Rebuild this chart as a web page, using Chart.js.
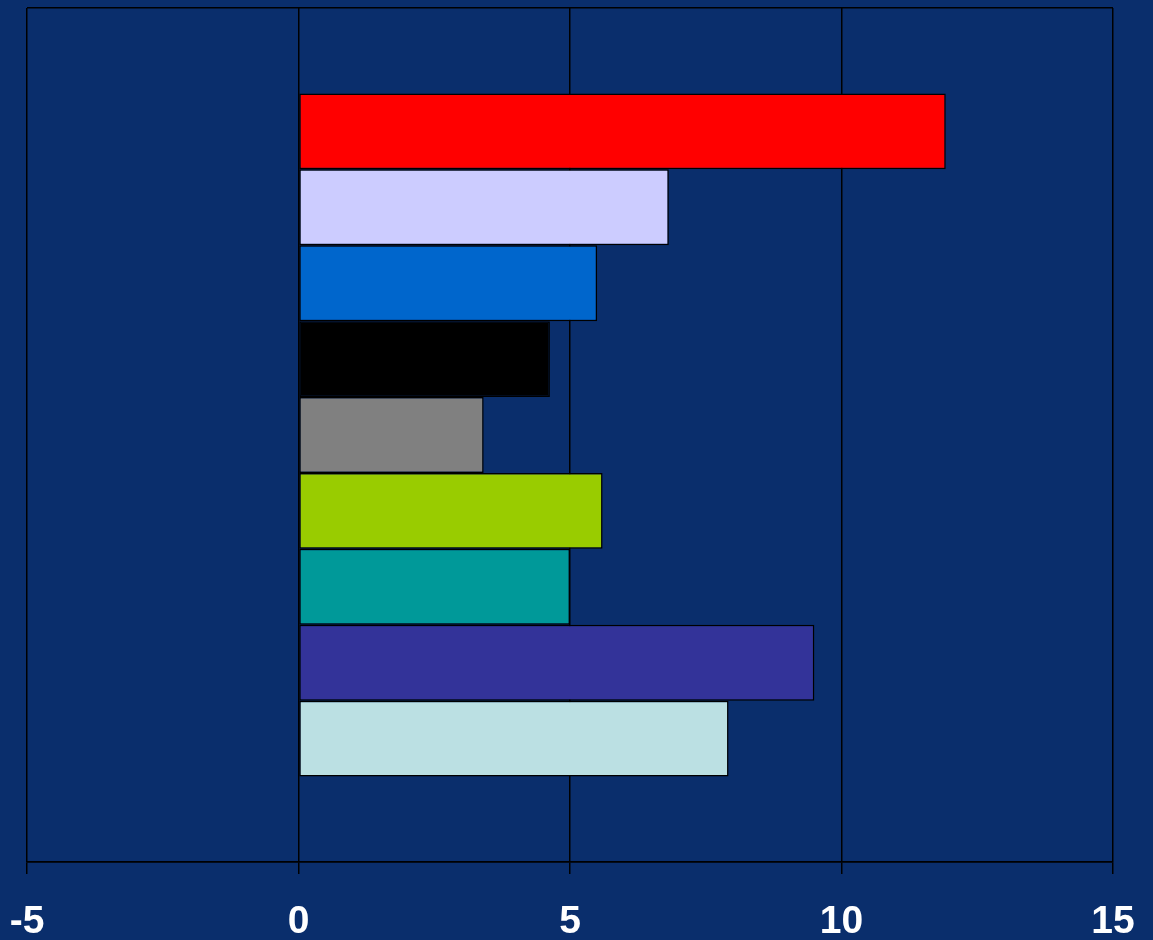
<!DOCTYPE html>
<html>
<head>
<meta charset="utf-8">
<script src="https://cdn.jsdelivr.net/npm/chart.js@4/dist/chart.umd.min.js"></script>
<style>
  html, body { margin: 0; padding: 0; background: #0a2e6c; overflow: hidden; }
  canvas { display: block; }
</style>
</head>
<body>
<canvas id="chart" width="1153" height="940"></canvas>
<script>
// === data ===
const categories = [""];
const seriesValues = [11.92, 6.82, 5.5, 4.63, 3.41, 5.6, 5.0, 9.5, 7.92];
const seriesColors = ["#ff0000", "#ccccff", "#0066cc", "#000000", "#808080", "#99cc00", "#009999", "#333399", "#bbe0e3"];
const xTicks = [-5, 0, 5, 10, 15];

const datasets = seriesValues.map((v, i) => ({
  label: "Series " + (i + 1),
  data: [v],
  backgroundColor: seriesColors[i],
  borderColor: "#000000",
  borderWidth: 1.5,
  borderSkipped: false,
  categoryPercentage: 0.8,
  barPercentage: 1.0,
}));

const ctx = document.getElementById("chart").getContext("2d");
new Chart(ctx, {
  type: "bar",
  data: { labels: categories, datasets },
  options: {
    indexAxis: "y",
    responsive: false,
    animation: false,
    devicePixelRatio: 1,
    layout: { padding: { left: 27, right: 40, top: 8, bottom: 0 } },
    plugins: {
      legend: { display: false },
      tooltip: { enabled: false },
    },
    scales: {
      x: {
        min: xTicks[0],
        max: xTicks[xTicks.length - 1],
        afterBuildTicks: axis => { axis.ticks = xTicks.map(v => ({ value: v })); },
        // fixed axis box so the plot area lines up with the picture
        afterFit: axis => {
          axis.height = 78;
          axis.paddingLeft = 0;
          axis.paddingRight = 0;
        },
        grid: { color: "#000000", lineWidth: 1.5, tickLength: 12, drawTicks: true },
        border: { color: "#000000", width: 1.5 },
        ticks: {
          color: "#ffffff",
          padding: 25,
          font: { family: "'Liberation Sans', Arial, sans-serif", size: 39, weight: "bold" },
        },
      },
      y: {
        afterFit: axis => { axis.width = 0; },
        grid: { color: "#000000", lineWidth: 1.5, drawTicks: false, offset: true },
        border: { display: false },
        ticks: { display: false },
      },
    },
  },
});
</script>
</body>
</html>
